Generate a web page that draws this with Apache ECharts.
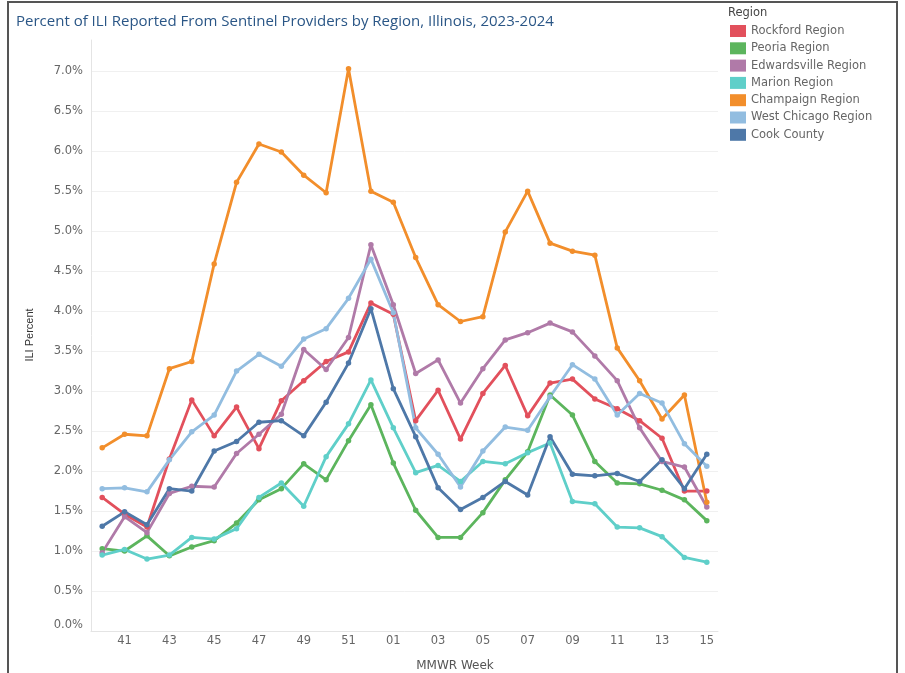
<!DOCTYPE html>
<html>
<head>
<meta charset="utf-8">
<script src="https://cdn.jsdelivr.net/npm/echarts@6/dist/echarts.min.js"></script>
<style>
html,body{margin:0;padding:0;background:#fff;}
#chart{width:905px;height:673px;}
</style>
</head>
<body>
<div id="chart"></div>
<script>
const weeks = ['40','41','42','43','44','45','46','47','48','49','50','51','52','01','02','03','04','05','06','07','08','09','10','11','12','13','14','15'];
const yTicks = [0, 0.5, 1, 1.5, 2, 2.5, 3, 3.5, 4, 4.5, 5, 5.5, 6, 6.5, 7];

const rockford     = [1.67,1.46,1.30,2.15,2.89,2.44,2.80,2.28,2.88,3.13,3.37,3.49,4.10,3.96,2.63,3.01,2.40,2.97,3.32,2.69,3.10,3.15,2.90,2.78,2.63,2.41,1.75,1.75];
const peoria       = [1.03,1.00,1.19,0.94,1.05,1.13,1.35,1.64,1.78,2.09,1.89,2.38,2.83,2.10,1.51,1.17,1.17,1.48,1.89,2.24,2.95,2.70,2.12,1.85,1.84,1.76,1.64,1.38];
const edwardsville = [0.98,1.43,1.23,1.72,1.81,1.80,2.22,2.46,2.71,3.52,3.27,3.67,4.83,4.08,3.22,3.39,2.85,3.28,3.64,3.73,3.85,3.74,3.44,3.13,2.54,2.12,2.05,1.55];
const marion       = [0.95,1.02,0.90,0.95,1.17,1.15,1.28,1.67,1.85,1.56,2.18,2.59,3.14,2.54,1.98,2.07,1.87,2.12,2.09,2.23,2.35,1.62,1.59,1.30,1.29,1.18,0.92,0.86];
const champaign    = [2.29,2.46,2.44,3.28,3.37,4.59,5.61,6.09,5.99,5.70,5.48,7.03,5.50,5.36,4.67,4.08,3.87,3.93,4.99,5.50,4.85,4.75,4.70,3.54,3.13,2.65,2.95,1.61];
const westChicago  = [1.78,1.79,1.74,2.14,2.49,2.70,3.25,3.46,3.31,3.65,3.78,4.16,4.65,3.98,2.54,2.21,1.80,2.25,2.55,2.51,2.93,3.33,3.15,2.70,2.97,2.85,2.34,2.06];
const cookCounty   = [1.31,1.49,1.33,1.78,1.75,2.25,2.37,2.61,2.63,2.44,2.86,3.35,4.03,3.03,2.43,1.79,1.52,1.67,1.87,1.70,2.43,1.96,1.94,1.97,1.87,2.14,1.78,2.21];

const seriesNames = ['Rockford Region','Peoria Region','Edwardsville Region','Marion Region','Champaign Region','West Chicago Region','Cook County'];
const seriesData = [rockford, peoria, edwardsville, marion, champaign, westChicago, cookCounty];
const colors = ['#e2505c','#5cb55d','#b07aa8','#5fcfc9','#f28e2b','#92bde0','#4e78a8'];

const chart = echarts.init(document.getElementById('chart'), null, {renderer:'canvas'});
const option = {
  animation: false,
  backgroundColor: '#fff',
  color: colors,
  title: {
    text: 'Percent of ILI Reported From Sentinel Providers by Region, Illinois, 2023-2024',
    left: 11, top: 9,
    textStyle: {fontFamily: 'Open Sans', fontSize: 15, fontWeight: 'normal', color: '#2a5686'}
  },
  legend: {
    orient: 'vertical',
    left: 730, top: 25,
    padding: 0,
    icon: 'rect',
    itemWidth: 16, itemHeight: 12, itemGap: 5.3,
    data: seriesNames,
    textStyle: {fontFamily: 'DejaVu Sans', fontSize: 11.5, color: '#666', lineHeight: 12}
  },
  graphic: [
    {type:'rect', shape:{x:8,y:2,width:889,height:720}, style:{fill:'none', stroke:'#555', lineWidth:2}, silent:true},
    {type:'text', left: 728, top: 7, style:{text:'Region', font:'11.5px "DejaVu Sans"', fill:'#444'}},
    {type:'text', x: 30, y: 335, rotation: Math.PI/2, style:{text:'ILI Percent', font:'11px "Liberation Sans"', fill:'#333', textAlign:'center', textVerticalAlign:'middle'}},
    {type:'text', x: 455, y: 666, style:{text:'MMWR Week', font:'12px "DejaVu Sans"', fill:'#555', textAlign:'center', textVerticalAlign:'middle'}}
  ],
  grid: {left: 91, right: 187, top: 40, bottom: 42, containLabel: false},
  xAxis: {
    type: 'category',
    data: weeks,
    boundaryGap: true,
    axisLine: {show: true, lineStyle: {color: '#e4e4e4', width: 1}},
    axisTick: {show: false},
    axisLabel: {
      interval: function(i){ return i % 2 === 1; },
      margin: 4,
      fontFamily: 'DejaVu Sans', fontSize: 11.5, color: '#666'
    },
    splitLine: {show: false}
  },
  yAxis: {
    type: 'value',
    min: 0, max: 7.39, interval: 0.5,
    axisLine: {show: true, lineStyle: {color: '#e4e4e4', width: 1}},
    axisTick: {show: false},
    axisLabel: {
      margin: 8,
      showMaxLabel: false,
      verticalAlignMinLabel: 'bottom',
      fontFamily: 'DejaVu Sans', fontSize: 11.5, color: '#666',
      formatter: function(v){
        return yTicks.indexOf(Math.round(v*100)/100) >= 0 ? v.toFixed(1) + '%' : '';
      }
    },
    splitLine: {show: true, showMaxLine: false, lineStyle: {color: '#f0f0f0', width: 1}}
  },
  series: seriesNames.map((name, i) => ({
    name: name,
    type: 'line',
    data: seriesData[i],
    symbol: 'circle',
    symbolSize: 5.5,
    lineStyle: {width: 2.8},
    itemStyle: {color: colors[i]},
    emphasis: {disabled: true}
  }))
};
chart.setOption(option);
</script>
</body>
</html>
